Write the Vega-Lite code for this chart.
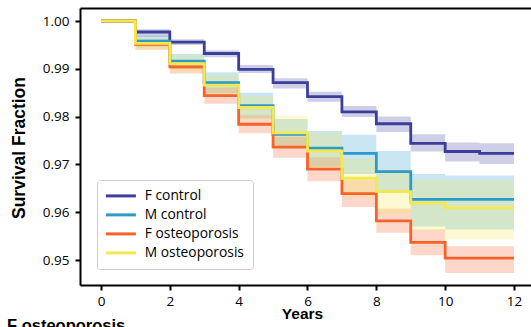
{
  "$schema": "https://vega.github.io/schema/vega-lite/v6.json",
  "width": 451,
  "height": 277,
  "autosize": {"type": "none"},
  "padding": {"left": 80, "top": 8, "right": 0, "bottom": 42},
  "background": "white",
  "title": {"text": "F osteoporosis", "orient": "bottom", "anchor": "start", "frame": "bounds", "font": "Liberation Sans", "fontWeight": "bold", "fontSize": 16.5, "color": "black", "baseline": "top", "offset": -4, "dx": -3},
  "config": {
    "view": {"stroke": null},
    "axis": {"labelFont": "Open Sans", "labelFontSize": 13.5, "labelColor": "black", "domainColor": "black", "domainWidth": 2, "tickColor": "black", "tickWidth": 2, "tickSize": 5, "grid": false, "titleFont": "Liberation Sans", "titleFontWeight": "bold", "titleColor": "black"},
    "legend": {"orient": "none", "legendX": 17, "legendY": 172, "labelFont": "Open Sans", "labelFontSize": 13.8, "labelColor": "black", "symbolType": "M-3,0H3", "symbolSize": 100, "symbolStrokeWidth": 3, "symbolOpacity": 1, "symbolOffset": 8, "strokeColor": "#cccccc", "fillColor": "rgba(255,255,255,0.8)", "cornerRadius": 3, "padding": 9, "labelOffset": 17, "rowPadding": 4}
  },
  "data": {"values": [
    {"g":"F control","t":0,"s":1,"lo":1,"hi":1},
    {"g":"F control","t":1,"s":0.9977,"lo":0.9967,"hi":0.9983},
    {"g":"F control","t":2,"s":0.9956,"lo":0.9950,"hi":0.9962},
    {"g":"F control","t":3,"s":0.9932,"lo":0.9924,"hi":0.9939},
    {"g":"F control","t":4,"s":0.9899,"lo":0.9891,"hi":0.9908},
    {"g":"F control","t":5,"s":0.9871,"lo":0.9859,"hi":0.9880},
    {"g":"F control","t":6,"s":0.9842,"lo":0.9831,"hi":0.9852},
    {"g":"F control","t":7,"s":0.9810,"lo":0.9799,"hi":0.9822},
    {"g":"F control","t":8,"s":0.9785,"lo":0.9768,"hi":0.9800},
    {"g":"F control","t":9,"s":0.9744,"lo":0.9727,"hi":0.9763},
    {"g":"F control","t":10,"s":0.9727,"lo":0.9706,"hi":0.9746},
    {"g":"F control","t":11,"s":0.9723,"lo":0.9701,"hi":0.9744},
    {"g":"F control","t":12,"s":0.9723,"lo":0.9701,"hi":0.9744},
    {"g":"M control","t":0,"s":1,"lo":1,"hi":1},
    {"g":"M control","t":1,"s":0.9958,"lo":0.9946,"hi":0.9969},
    {"g":"M control","t":2,"s":0.9916,"lo":0.9899,"hi":0.9931},
    {"g":"M control","t":3,"s":0.9871,"lo":0.9849,"hi":0.9893},
    {"g":"M control","t":4,"s":0.9823,"lo":0.9796,"hi":0.9850},
    {"g":"M control","t":5,"s":0.9763,"lo":0.9735,"hi":0.9795},
    {"g":"M control","t":6,"s":0.9734,"lo":0.9695,"hi":0.9770},
    {"g":"M control","t":7,"s":0.9723,"lo":0.9680,"hi":0.9762},
    {"g":"M control","t":8,"s":0.9685,"lo":0.9640,"hi":0.9728},
    {"g":"M control","t":9,"s":0.9627,"lo":0.9570,"hi":0.9680},
    {"g":"M control","t":10,"s":0.9627,"lo":0.9564,"hi":0.9677},
    {"g":"M control","t":11,"s":0.9627,"lo":0.9564,"hi":0.9677},
    {"g":"M control","t":12,"s":0.9627,"lo":0.9564,"hi":0.9677},
    {"g":"F osteoporosis","t":0,"s":1,"lo":1,"hi":1},
    {"g":"F osteoporosis","t":1,"s":0.9951,"lo":0.9940,"hi":0.9962},
    {"g":"F osteoporosis","t":2,"s":0.9904,"lo":0.9890,"hi":0.9918},
    {"g":"F osteoporosis","t":3,"s":0.9844,"lo":0.9827,"hi":0.9861},
    {"g":"F osteoporosis","t":4,"s":0.9784,"lo":0.9765,"hi":0.9803},
    {"g":"F osteoporosis","t":5,"s":0.9736,"lo":0.9714,"hi":0.9758},
    {"g":"F osteoporosis","t":6,"s":0.9690,"lo":0.9665,"hi":0.9715},
    {"g":"F osteoporosis","t":7,"s":0.9639,"lo":0.9611,"hi":0.9667},
    {"g":"F osteoporosis","t":8,"s":0.9582,"lo":0.9557,"hi":0.9608},
    {"g":"F osteoporosis","t":9,"s":0.9537,"lo":0.9510,"hi":0.9564},
    {"g":"F osteoporosis","t":10,"s":0.9504,"lo":0.9473,"hi":0.9529},
    {"g":"F osteoporosis","t":11,"s":0.9504,"lo":0.9473,"hi":0.9529},
    {"g":"F osteoporosis","t":12,"s":0.9504,"lo":0.9473,"hi":0.9529},
    {"g":"M osteoporosis","t":0,"s":1,"lo":1,"hi":1},
    {"g":"M osteoporosis","t":1,"s":0.9953,"lo":0.9940,"hi":0.9965},
    {"g":"M osteoporosis","t":2,"s":0.9911,"lo":0.9893,"hi":0.9928},
    {"g":"M osteoporosis","t":3,"s":0.9866,"lo":0.9845,"hi":0.9887},
    {"g":"M osteoporosis","t":4,"s":0.9819,"lo":0.9795,"hi":0.9843},
    {"g":"M osteoporosis","t":5,"s":0.9766,"lo":0.9737,"hi":0.9801},
    {"g":"M osteoporosis","t":6,"s":0.9728,"lo":0.9690,"hi":0.9766},
    {"g":"M osteoporosis","t":7,"s":0.9671,"lo":0.9630,"hi":0.9712},
    {"g":"M osteoporosis","t":8,"s":0.9643,"lo":0.9597,"hi":0.9690},
    {"g":"M osteoporosis","t":9,"s":0.9619,"lo":0.9560,"hi":0.9668},
    {"g":"M osteoporosis","t":10,"s":0.9609,"lo":0.9543,"hi":0.9667},
    {"g":"M osteoporosis","t":11,"s":0.9609,"lo":0.9543,"hi":0.9667},
    {"g":"M osteoporosis","t":12,"s":0.9609,"lo":0.9543,"hi":0.9667}
  ]},
  "layer": [
    {
      "mark": {"type": "area", "interpolate": "step-after", "opacity": 0.25},
      "encoding": {
        "x": {"field": "t", "type": "quantitative", "scale": {"domain": [-0.61, 12.494], "nice": false, "zero": false},
              "axis": {"values": [0,2,4,6,8,10,12], "title": "Years", "titleFontSize": 15.5, "titleX": 222, "titleY": 33, "titleBaseline": "alphabetic", "labelPadding": 4}},
        "y": {"field": "lo", "type": "quantitative", "scale": {"domain": [0.94477, 1.00272], "nice": false, "zero": false},
              "axis": {"values": [0.95,0.96,0.97,0.98,0.99,1.0], "format": ".2f", "title": "Survival Fraction", "titleFontSize": 17.5, "titleX": -61, "titleY": 139.5, "titleBaseline": "middle", "titleAngle": -90, "labelPadding": 6}},
        "y2": {"field": "hi"},
        "color": {"field": "g", "type": "nominal", "sort": null, "legend": {"title": null, "symbolOpacity": 1},
                  "scale": {"domain": ["F control","M control","F osteoporosis","M osteoporosis"], "range": ["#3b3e9a","#2b9bcb","#f6622a","#f3e84e"]}}
      }
    },
    {
      "mark": {"type": "line", "interpolate": "step-after", "strokeWidth": 2.8},
      "encoding": {
        "x": {"field": "t", "type": "quantitative", "axis": {"orient": "top", "labels": false, "ticks": false, "title": null, "domain": true}},
        "y": {"field": "s", "type": "quantitative"},
        "color": {"field": "g", "type": "nominal", "sort": null, "legend": {"title": null, "symbolOpacity": 1}}
      }
    }
  ],
  "resolve": {"axis": {"x": "independent"}}
}
